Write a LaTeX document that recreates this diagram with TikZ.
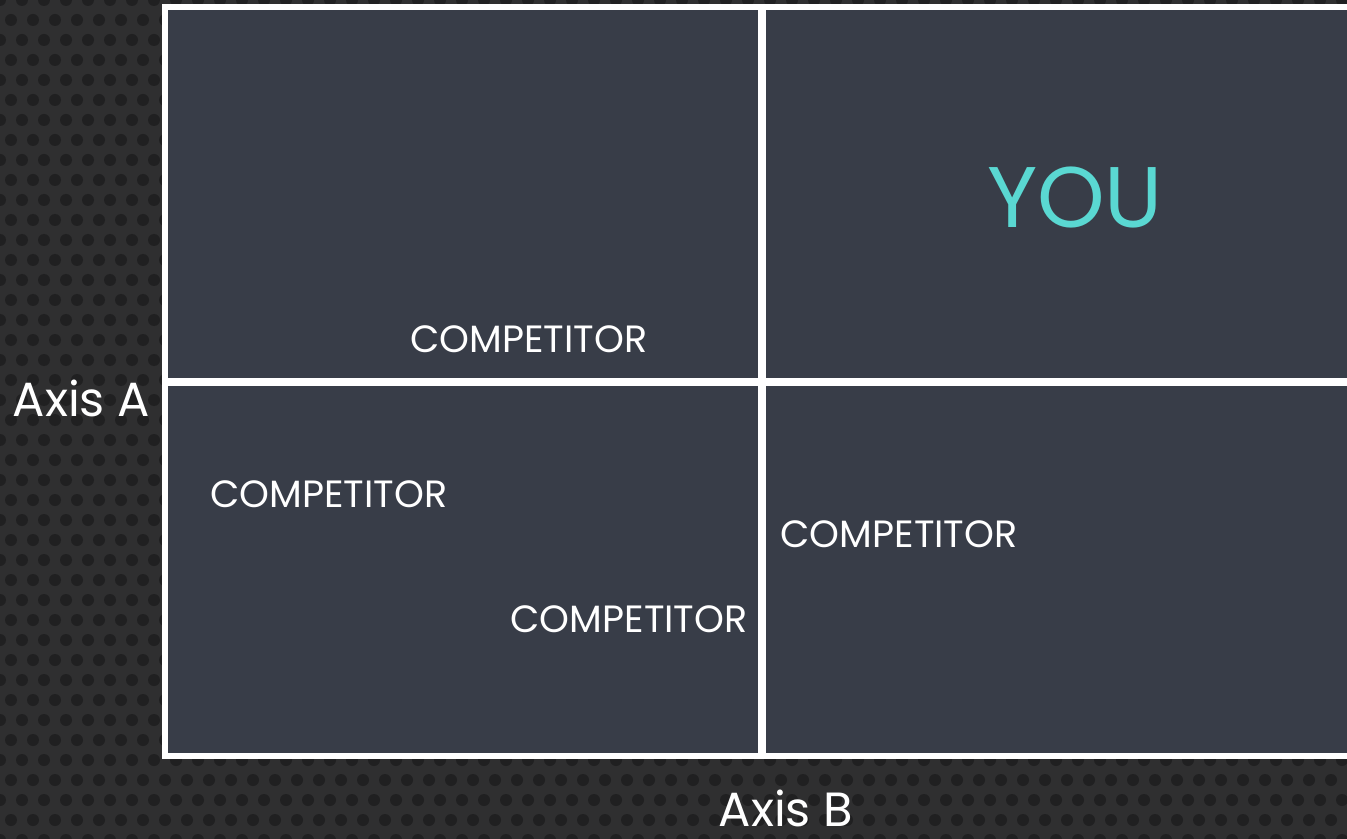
\documentclass[tikz,border=0pt]{standalone}
\usepackage{fontspec}
\setmainfont{Poppins}
\definecolor{bgdark}{HTML}{2F2F30}
\definecolor{bgdot}{HTML}{202021}
\definecolor{cellgray}{HTML}{383D48}
\definecolor{youteal}{HTML}{5AD8D2}
\begin{document}
\begin{tikzpicture}[x=0.5pt,y=-0.5pt,
    cell/.style={fill=cellgray},
    comp/.style={text=white,inner sep=0pt,font=\fontsize{19}{21}\selectfont},
    axislabel/.style={text=white,inner sep=0pt,font=\fontsize{24}{27}\selectfont}]
            \useasboundingbox (0,0) rectangle (1347,839);

            % background with dot texture
            \begin{scope}
                \clip (0,0) rectangle (1347,839);
                \fill[bgdark] (0,0) rectangle (1347,839);
                \foreach \i in {0,...,62} {
                    \foreach \j in {0,...,42} {
                        \pgfmathsetmacro{\xx}{\i*22+mod(\j,2)*11}
                        \fill[bgdot] (\xx,\j*20) circle (6);
                    }
                }
            \end{scope}

            \coordinate (tl) at (162,4);
            \coordinate (br) at (1347,759);

            % white frame and four cells
            \fill[white] (tl) rectangle (br);
            \fill[cell] (168,10) rectangle (758,378);
            \fill[cell] (766,10) rectangle (1347,378);
            \fill[cell] (168,386) rectangle (758,753);
            \fill[cell] (766,386) rectangle (1347,753);

            \node[text=youteal,inner sep=0pt,font=\fontsize{43}{46}\selectfont] (you) at (1075,197) {YOU};
            \node[comp] (compa) at (529,339) {COMPETITOR};
            \node[comp] (compb) at (329,494) {COMPETITOR};
            \node[comp] (compc) at (629,619) {COMPETITOR};
            \node[comp] (compd) at (899,534) {COMPETITOR};

            \node[axislabel] (axisa) at (81.5,398) {Axis A};
            \node[axislabel] (axisb) at (786,808) {Axis B};
        \end{tikzpicture}
\end{document}
